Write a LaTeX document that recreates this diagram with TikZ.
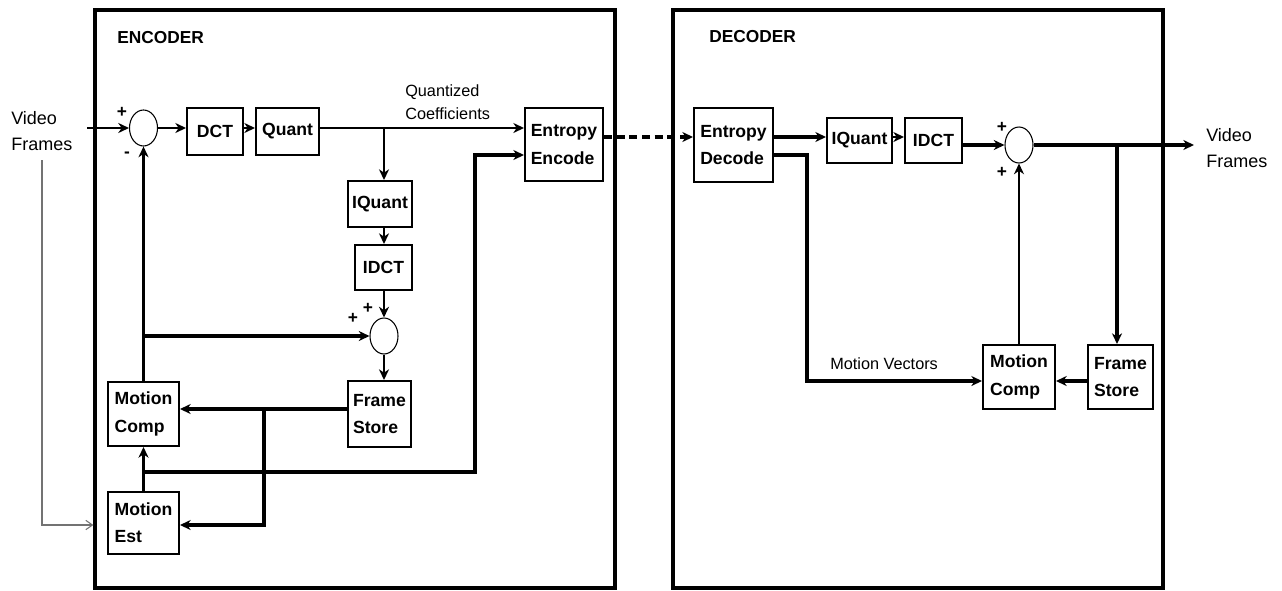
\documentclass[tikz,border=0pt]{standalone}
\usepackage{fontspec}
\setmainfont{Liberation Sans}
\usetikzlibrary{arrows.meta,shapes.geometric}
\begin{document}
\begin{tikzpicture}[x=0.75pt,y=-0.75pt,
  frame/.style={draw, line width=2.4pt, inner sep=0pt, minimum height=433.5pt},
  blk/.style={draw, line width=1.5pt, font=\fontsize{13.2}{20.5}\selectfont\bfseries, align=left, inner sep=0pt},
  sum/.style={draw, ellipse, line width=0.8pt, minimum width=21pt, minimum height=27pt, inner sep=0pt},
  lbl/.style={font=\fontsize{13.5}{20}\selectfont, align=left, inner sep=0pt},
  ttl/.style={font=\fontsize{13}{15}\selectfont\bfseries, inner sep=0pt},
  small/.style={font=\fontsize{12.2}{17}\selectfont, align=left, inner sep=0pt},
  sgn/.style={font=\fontsize{13}{13}\selectfont\bfseries, inner sep=0pt},
  tip/.style={-{Stealth[length=8pt,width=7.5pt,inset=2.5pt]}},
  nw/.style={line width=1.6pt, tip},
  hw/.style={line width=2.3pt, tip},
  tw/.style={line width=1.1pt, tip},
  gw/.style={line width=0.8pt, draw=black!55, -{Straight Barb[length=5pt,width=7pt]}},
  dw/.style={line width=2.3pt, dash pattern=on 6pt off 3.5pt, tip}
]
\useasboundingbox (0,0) rectangle (1282,590);

% frames
\node[frame, minimum width=390pt] (enc) at (355,299) {};
\node[frame, minimum width=367.5pt] (dec) at (918,299) {};
\node[ttl, anchor=west] (enct) at (117,38) {ENCODER};
\node[ttl, anchor=west] (dect) at (709,37) {DECODER};

% encoder blocks
\node[sum] (s1) at (143.5,128) {};
\node[blk, minimum width=42pt, minimum height=35.25pt] (dct) at (215,131.5) {DCT};
\node[blk, minimum width=47.25pt, minimum height=35.25pt] (quant) at (287.5,131.5) {Quant};
\node[blk, minimum width=58.5pt, minimum height=54.75pt] (ee) at (564,144.5) {Entropy\\Encode};
\node[blk, minimum width=48pt, minimum height=34.5pt] (iq) at (380,204) {IQuant};
\node[blk, minimum width=42.75pt, minimum height=33.75pt] (idct) at (383.5,267.5) {IDCT};
\node[sum] (s2) at (384,336) {};
\node[blk, minimum width=47.25pt, minimum height=49.5pt] (fs) at (379.5,414) {Frame\\Store};
\node[blk, minimum width=53.25pt, minimum height=48pt] (mc) at (143.5,414) {Motion\\Comp};
\node[blk, minimum width=53.25pt, minimum height=46.5pt] (me) at (143.5,523) {Motion\\Est};

% decoder blocks
\node[blk, minimum width=59.25pt, minimum height=55.5pt] (ed) at (733.5,145) {Entropy\\Decode};
\node[blk, minimum width=48.75pt, minimum height=33.75pt] (diq) at (859.5,140.5) {IQuant};
\node[blk, minimum width=42.75pt, minimum height=33.75pt] (didct) at (933.5,140.5) {IDCT};
\node[sum] (s3) at (1019,145) {};
\node[blk, minimum width=54pt, minimum height=48pt] (dmc) at (1019,377) {Motion\\Comp};
\node[blk, minimum width=48.75pt, minimum height=48pt] (dfs) at (1120.5,377) {Frame\\Store};

% texts
\node[lbl, anchor=west] (vf) at (11,131) {Video\\Frames};
\node[lbl, anchor=west] (vo) at (1206,148) {Video\\Frames};
\node[small, anchor=west] (qc) at (405,102) {Quantized\\Coefficients};
\node[small, anchor=west] (mv) at (830,364) {Motion Vectors};
\node[sgn] (p1) at (122,112) {+};
\node[sgn] (m1) at (127,155) {-};
\node[sgn] (p2) at (353,318) {+};
\node[sgn] (p3) at (368,308) {+};
\node[sgn] (p4) at (1002,127) {+};
\node[sgn] (p5) at (1002,172) {+};

% coordinates
\coordinate (vin) at (87,128);
\coordinate (b1) at (384,128);
\coordinate (r1) at (0,409);
\coordinate (b2) at (264,409);
\coordinate (r2) at (0,525);
\coordinate (b3) at (143.5,472);
\coordinate (c3) at (475,155);
\coordinate (g1) at (42,160);
\coordinate (r3) at (0,137);
\coordinate (out) at (1194,145);
\coordinate (b4) at (1117,145);
\coordinate (r4) at (0,381);
\coordinate (c4) at (807,155);

% encoder connectors
\draw[nw] (vin) -- (s1.west);
\draw[nw] (s1.east) -- (dct.west |- s1.east);
\draw[nw] (dct.east |- s1.east) -- (quant.west |- s1.east);
\draw[nw] (quant.east |- s1.east) -- (ee.west |- s1.east);
\draw[nw] (b1) -- (b1 |- iq.north);
\draw[nw] (b1 |- iq.south) -- (b1 |- idct.north);
\draw[nw] (b1 |- idct.south) -- (s2.north);
\draw[nw] (s2.south) -- (s2.south |- fs.north);
\draw[nw] (mc.north) -- (s1.south);
\draw[hw] (mc.north |- s2.west) -- (s2.west);
\draw[hw] (fs.west |- r1) -- (mc.east |- r1);
\draw[hw] (b2) -- (b2 |- r2) -- (me.east |- r2);
\draw[nw] (me.north) -- (mc.south);
\draw[hw] (b3) -| (c3) -- (ee.west |- c3);
\draw[gw] (g1) |- (enc.west |- r2);
\draw[dw] (ee.east |- r3) -- (ed.west |- r3);

% decoder connectors
\draw[hw] (ed.east |- r3) -- (diq.west |- r3);
\draw[nw] (diq.east |- r3) -- (didct.west |- r3);
\draw[hw] (didct.east |- s3.west) -- (s3.west);
\draw[hw] (s3.east) -- (out);
\draw[hw] (b4) -- (b4 |- dfs.north);
\draw[hw] (dfs.west |- r4) -- (dmc.east |- r4);
\draw[hw] (ed.east |- c4) -- (c4) -- (c4 |- r4) -- (dmc.west |- r4);
\draw[tw] (dmc.north) -- (s3.south);
\end{tikzpicture}
\end{document}
